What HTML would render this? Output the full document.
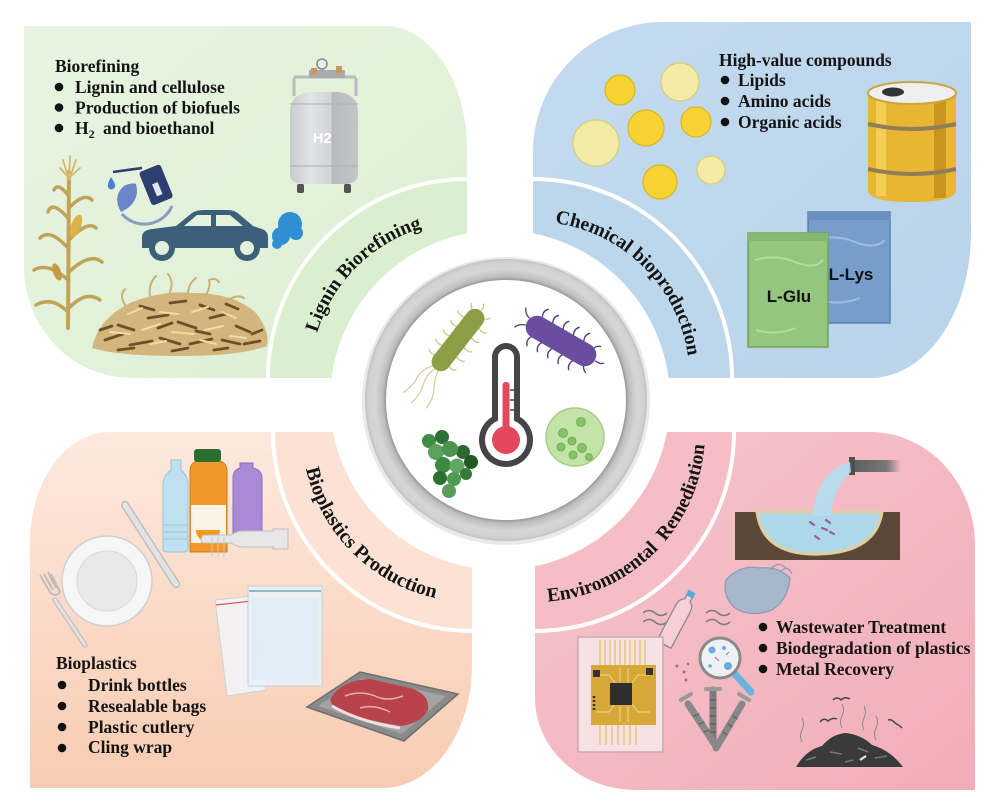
<!DOCTYPE html>
<html><head><meta charset="utf-8">
<style>
html,body{margin:0;padding:0;background:#fff;}
svg{display:block;}
.t{font-family:"Liberation Serif",serif;font-weight:bold;font-size:17.5px;fill:#141414;}
.c{font-family:"Liberation Serif",serif;font-weight:bold;font-size:19.5px;fill:#141414;}
.s{font-family:"Liberation Sans",sans-serif;font-weight:bold;}
</style></head><body>
<svg width="1006" height="810" viewBox="0 0 1006 810" xmlns="http://www.w3.org/2000/svg">
<defs>
  <linearGradient id="gG" x1="0" y1="0" x2="1" y2="1">
    <stop offset="0" stop-color="#e8f4e1"/><stop offset="1" stop-color="#ddefd4"/>
  </linearGradient>
  <linearGradient id="gB" x1="0" y1="0" x2="1" y2="1">
    <stop offset="0" stop-color="#c4dbef"/><stop offset="1" stop-color="#b9d3ea"/>
  </linearGradient>
  <linearGradient id="gP" x1="0" y1="0" x2="0" y2="1">
    <stop offset="0" stop-color="#fde9de"/><stop offset="1" stop-color="#f8ccb2"/>
  </linearGradient>
  <linearGradient id="gR" x1="0" y1="0" x2="1" y2="1">
    <stop offset="0" stop-color="#f6c6cd"/><stop offset="1" stop-color="#f1adb8"/>
  </linearGradient>
  <radialGradient id="ring" cx="506" cy="400" r="141" gradientUnits="userSpaceOnUse">
    <stop offset="0.845" stop-color="#8e8e8e"/>
    <stop offset="0.875" stop-color="#bdbdbd"/>
    <stop offset="0.93" stop-color="#d6d6d6"/>
    <stop offset="0.975" stop-color="#d2d2d2"/>
    <stop offset="1" stop-color="#c2c2c2"/>
  </radialGradient>
  <linearGradient id="pipe" x1="0" y1="0" x2="1" y2="0">
    <stop offset="0" stop-color="#5e5e5e"/><stop offset="0.7" stop-color="#777"/><stop offset="1" stop-color="#777" stop-opacity="0"/>
  </linearGradient>
  <linearGradient id="tank" x1="0" y1="0" x2="1" y2="0">
    <stop offset="0" stop-color="#c9cacc"/><stop offset="0.3" stop-color="#e2e3e5"/><stop offset="0.6" stop-color="#d3d4d6"/><stop offset="0.62" stop-color="#b9babd"/><stop offset="1" stop-color="#c4c5c7"/>
  </linearGradient>
  <path id="pLig" d="M310.5 378 A156.5 156.5 0 0 1 467 221.5"/>
  <path id="pChem" d="M533 221.5 A156.5 156.5 0 0 1 689.5 378"/>
  <path id="pBio" d="M302 432 A170 170 0 0 0 472 602"/>
  <path id="pEnv" d="M535 602 A170 170 0 0 0 705 432"/>
</defs>

<!-- Quadrant main regions -->
<path d="M24 26 L385 26 A82 123 0 0 1 467 149 L467 177 A201 201 0 0 0 266 378 L132 378 A108 111 0 0 1 24 267 Z" fill="url(#gG)"/>
<path d="M533 177 L533 152 A130 130 0 0 1 663 22 L971 22 L971 233 A101 145 0 0 1 870 378 L734 378 A201 201 0 0 0 533 177 Z" fill="url(#gB)"/>
<path d="M30 542 A80 110 0 0 1 110 432 L271 432 A201 201 0 0 0 472 633 L472 665 A89 123 0 0 1 383 788 L30 788 Z" fill="url(#gP)"/>
<path d="M736 432 L870 432 A105 113 0 0 1 975 545 L975 790 L636 790 A101 92 0 0 1 535 698 L535 633 A201 201 0 0 0 736 432 Z" fill="url(#gR)"/>

<!-- Bands -->
<path d="M467 181 A197 197 0 0 0 270 378 L467 378 Z" fill="#d9efcf"/>
<path d="M533 181 A197 197 0 0 1 730 378 L533 378 Z" fill="#bcd6ec"/>
<path d="M275 432 A197 197 0 0 0 472 629 L472 432 Z" fill="#fce2d5"/>
<path d="M535 629 A197 197 0 0 0 732 432 L535 432 Z" fill="#f5bec6"/>

<!-- white disc -->
<circle cx="500" cy="400" r="170" fill="#fff"/>

<!-- curved labels -->
<text class="c" text-anchor="middle"><textPath href="#pLig" startOffset="50%">Lignin Biorefining</textPath></text>
<text class="c" text-anchor="middle"><textPath href="#pChem" startOffset="50%">Chemical bioproduction</textPath></text>
<text class="c" text-anchor="middle" style="font-size:20px"><textPath href="#pBio" startOffset="50%">Bioplastics Production</textPath></text>
<text class="c" text-anchor="middle"><textPath href="#pEnv" startOffset="50%">Environmental&#160; Remediation</textPath></text>

<!-- Center ring -->
<circle cx="506" cy="401" r="144" fill="#e9e9e9"/>
<circle cx="506" cy="400" r="141" fill="url(#ring)"/>
<circle cx="506" cy="400" r="120" fill="#fff"/>

<!-- green bacterium -->
<g transform="translate(458 340) rotate(-52)">
  <g stroke="#c9c98a" stroke-width="1.3" fill="none" stroke-linecap="round">
    <path d="M-26 -9 q-2 -5 1 -8 M-14 -9 q-2 -6 1 -9 M-2 -9 q-2 -6 1 -9 M10 -9 q-2 -6 1 -9 M22 -9 q-2 -6 1 -9 M32 -6 q2 -5 5 -6"/>
    <path d="M-26 9 q-2 5 1 8 M-14 9 q-2 6 1 9 M-2 9 q-2 6 1 9 M10 9 q-2 6 1 9 M22 9 q-2 6 1 9 M32 6 q2 5 5 6 M38 0 q4 1 6 -2"/>
    <path d="M-36 0 q-10 -4 -20 0 t-22 2" stroke="#d4d0a0"/>
    <path d="M-35 3 q-10 2 -18 8 t-20 6" stroke="#d4d0a0"/>
    <path d="M-35 -3 q-10 -8 -20 -6 t-20 -2" stroke="#d4d0a0"/>
  </g>
  <rect x="-37" y="-9.5" width="74" height="19" rx="9.5" fill="#8d9e47"/>
</g>
<!-- purple bacterium -->
<g transform="translate(561 341) rotate(30)">
  <g stroke="#4e3a7e" stroke-width="1.3" fill="none" stroke-linecap="round">
    <path d="M-28 -11 q-3 -6 1 -10 M-16 -11 q-3 -6 1 -10 M-4 -11 q-3 -6 1 -10 M8 -11 q-3 -6 1 -10 M20 -11 q-3 -6 1 -10 M31 -8 q2 -6 6 -7"/>
    <path d="M-28 11 q-3 6 1 10 M-16 11 q-3 6 1 10 M-4 11 q-3 6 1 10 M8 11 q-3 6 1 10 M20 11 q-3 6 1 10 M31 8 q2 6 6 7"/>
    <path d="M-39 -4 q-6 -2 -8 -7 M-39 4 q-6 2 -8 7 M40 0 q5 1 8 -2"/>
  </g>
  <rect x="-39" y="-11.5" width="78" height="23" rx="11.5" fill="#6a4d9f"/>
</g>
<!-- thermometer -->
<g>
  <rect x="492" y="343" width="28" height="90" rx="14" fill="#454545"/>
  <circle cx="506" cy="440" r="27" fill="#454545"/>
  <rect x="498" y="349" width="16" height="86" rx="8" fill="#fff"/>
  <circle cx="506" cy="440" r="21" fill="#fff"/>
  <rect x="502.5" y="382" width="7" height="55" rx="3" fill="#e4485a"/>
  <circle cx="506" cy="440" r="14" fill="#e4485a"/>
  <path d="M510 390 h4 M510 400 h4 M510 410 h4" stroke="#454545" stroke-width="1.5"/>
</g>
<!-- cocci cluster -->
<g>
  <circle cx="429" cy="441" r="7" fill="#3f8a44"/>
  <circle cx="442" cy="437" r="7" fill="#2f7036"/>
  <circle cx="463" cy="452" r="7" fill="#2b6a30"/>
  <circle cx="471" cy="462" r="7" fill="#1f5a25"/>
  <circle cx="436" cy="452" r="8" fill="#5aa25c"/>
  <circle cx="450" cy="449" r="8" fill="#4d9450"/>
  <circle cx="443" cy="465" r="8" fill="#3c8a40"/>
  <circle cx="457" cy="466" r="7.5" fill="#5fa862"/>
  <circle cx="440" cy="478" r="7" fill="#2d7032"/>
  <circle cx="454" cy="479" r="7" fill="#4d9a50"/>
  <circle cx="466" cy="474" r="6" fill="#357a3a"/>
  <circle cx="449" cy="491" r="7" fill="#5a9e5c"/>
</g>
<!-- algae cell -->
<g>
  <circle cx="575" cy="437" r="29" fill="#c3e3a8" stroke="#a5cf88" stroke-width="1.5"/>
  <g fill="#86c265" stroke="#6aa84d" stroke-width="0.8">
    <circle cx="581" cy="422" r="4.5"/><circle cx="563" cy="433" r="4.5"/><circle cx="572" cy="441" r="4"/>
    <circle cx="561" cy="447" r="4"/><circle cx="582" cy="448" r="4.5"/><circle cx="573" cy="455" r="4"/><circle cx="589" cy="457" r="3.5"/>
  </g>
</g>

<!-- ============ GREEN QUADRANT ============ -->
<text class="t" x="55" y="72">Biorefining</text>
<g fill="#111"><circle cx="59" cy="87" r="4.3"/><circle cx="59" cy="107.5" r="4.3"/><circle cx="59" cy="128" r="4.3"/></g>
<text class="t" x="75" y="93">Lignin and cellulose</text>
<text class="t" x="75" y="113.5">Production of biofuels</text>
<text class="t" x="75" y="134">H<tspan font-size="12" dy="4">2</tspan><tspan x="103" dy="-4">and bioethanol</tspan></text>

<!-- H2 tank -->
<g>
  <path d="M294 78 L294 96 M356 78 L356 96 M294 77 L356 77" stroke="#b9babc" stroke-width="3" fill="none"/>
  <rect x="309" y="70" width="36" height="8" fill="#a9aaad"/>
  <circle cx="322" cy="64" r="5" fill="#eee" stroke="#888" stroke-width="1.5"/>
  <rect x="311" y="68" width="6" height="6" fill="#c59a62"/>
  <rect x="336" y="66" width="6" height="7" fill="#c59a62"/>
  <path d="M290 112 Q290 93 312 92 L336 92 Q358 93 358 112 L358 174 Q358 183 346 184 L302 184 Q290 183 290 174 Z" fill="url(#tank)"/>
  <path d="M290 104 H358 M290 166 H358" stroke="#b4b5b8" stroke-width="1.2"/>
  <rect x="297" y="184" width="7" height="9" rx="2" fill="#555"/>
  <rect x="344" y="184" width="7" height="9" rx="2" fill="#555"/>
  <text class="s" x="313" y="143" font-size="14.5" fill="#fff">H2</text>
</g>

<!-- corn -->
<g fill="none" stroke-linecap="round">
  <path d="M68 328 L69 172" stroke="#c5a354" stroke-width="4"/>
  <g stroke="#c0a258" stroke-width="3.5">
    <path d="M68 312 Q52 296 36 305"/>
    <path d="M69 308 Q86 290 100 300"/>
    <path d="M68 280 Q48 262 34 270"/>
    <path d="M69 272 Q90 252 102 262"/>
    <path d="M68 248 Q50 228 40 238"/>
    <path d="M69 240 Q88 220 96 228"/>
    <path d="M68 218 Q52 200 48 212"/>
    <path d="M69 208 Q84 192 92 200"/>
    <path d="M68 195 Q58 182 54 190"/>
  </g>
  <path d="M69 180 L63 160 M69 180 L70 156 M69 180 L76 160 M69 178 L60 168 M69 178 L80 168" stroke="#d7b86a" stroke-width="1.8"/>
  <ellipse cx="76" cy="226" rx="5" ry="12" fill="#dcb04a" transform="rotate(20 76 226)"/>
  <ellipse cx="57" cy="272" rx="4" ry="9" fill="#c49a45" transform="rotate(-20 57 272)"/>
</g>

<!-- straw pile -->
<g>
  <path d="M92 348 Q98 318 132 302 Q165 290 190 293 Q232 292 255 312 Q270 330 267 346 Q240 356 180 356 Q118 356 92 348 Z" fill="#d3b67d"/>
  <g stroke="#6e4f28" stroke-width="2.8" stroke-linecap="round" fill="none">
    <path d="M105 340 l18 -6 M130 345 l22 -4 M160 338 l20 6 M190 344 l22 -5 M222 340 l18 4 M118 325 l16 5 M148 318 l20 -3 M178 322 l18 6 M210 318 l16 -4 M236 326 l14 6 M140 306 l14 4 M170 303 l16 -2 M200 305 l14 5 M244 344 l16 -3 M100 330 l12 -4 M158 328 l14 -5 M196 331 l14 3 M226 304 l12 5 M252 334 l10 -4 M118 350 l16 -2 M172 351 l16 -3 M214 350 l14 -2"/>
  </g>
  <g stroke="#efdcaa" stroke-width="2" stroke-linecap="round" fill="none">
    <path d="M110 332 l20 2 M142 330 l18 -6 M172 332 l22 2 M205 330 l18 -4 M230 336 l16 2 M128 314 l14 -6 M160 312 l18 2 M192 312 l16 -5 M222 312 l14 6 M150 344 l16 -3 M200 340 l16 4"/>
  </g>
  <g stroke="#cdb073" stroke-width="2" fill="none" stroke-linecap="round">
    <path d="M150 296 q-2 -12 6 -20 M170 292 q4 -10 -2 -18 M188 294 q0 -10 8 -16 M205 296 q6 -8 4 -16 q6 -3 10 2 M125 305 q-6 -10 0 -16 M228 300 q10 -6 16 -2"/>
  </g>
</g>

<!-- fuel icon -->
<g>
  <path d="M122 214 A30 30 0 0 0 172 206" stroke="#8a9ac0" stroke-width="3" fill="none"/>
  <path d="M113 172 L142 168" stroke="#2d3f70" stroke-width="2.5"/>
  <g transform="rotate(-22 156 186)">
    <rect x="145" y="167" width="23" height="36" rx="3" fill="#2d3f70"/>
    <rect x="153" y="183" width="6" height="13" fill="#dfe7f3"/>
  </g>
  <path d="M111 177 Q107 184 108 187 Q111 192 115 187 Q116 184 111 177 Z" fill="#4a80d0"/>
  <path d="M121 212 Q112 196 124 186 Q132 182 136 184 Q140 198 128 208 Z" fill="#6a86c8"/>
</g>

<!-- car -->
<g fill="#3c6079">
  <path d="M142 248 L142 236 Q143 230 152 229 L176 226 L192 213 Q196 210 204 210 L228 210 Q235 210 240 215 L253 226 L262 229 Q268 231 268 238 L268 248 Z"/>
  <circle cx="162" cy="248" r="13"/><circle cx="247" cy="248" r="13"/>
</g>
<g fill="#e4f1dc">
  <path d="M184 226 L197 215 L211 215 L211 226 Z"/>
  <path d="M216 215 L230 215 L243 226 L216 226 Z"/>
  <circle cx="162" cy="248" r="7"/><circle cx="247" cy="248" r="7"/>
</g>
<g fill="#2f8fd2">
  <circle cx="290" cy="224" r="12"/><circle cx="281" cy="236" r="9"/><circle cx="277" cy="244" r="5"/><circle cx="296" cy="233" r="7"/>
</g>

<!-- ============ BLUE QUADRANT ============ -->
<text class="t" x="719" y="66">High-value compounds</text>
<g fill="#111"><circle cx="725" cy="80" r="4.3"/><circle cx="725" cy="101" r="4.3"/><circle cx="725" cy="122" r="4.3"/></g>
<text class="t" x="738" y="86">Lipids</text>
<text class="t" x="738" y="107">Amino acids</text>
<text class="t" x="738" y="128">Organic acids</text>

<g stroke-width="1.2">
  <circle cx="620" cy="90" r="15" fill="#f6d233" stroke="#dcb423"/>
  <circle cx="680" cy="82" r="19" fill="#f2eca6" stroke="#d8cd72"/>
  <circle cx="596" cy="143" r="23" fill="#f2eca6" stroke="#d8cd72"/>
  <circle cx="646" cy="128" r="18" fill="#f6d233" stroke="#dcb423"/>
  <circle cx="696" cy="122" r="15" fill="#f6d233" stroke="#dcb423"/>
  <circle cx="660" cy="182" r="17" fill="#f6d233" stroke="#dcb423"/>
  <circle cx="711" cy="170" r="14" fill="#f2eca6" stroke="#d8cd72"/>
</g>

<!-- barrel -->
<g>
  <path d="M868 94 L868 190 Q868 202 912 202 Q956 202 956 190 L956 94 Z" fill="#e8b632"/>
  <rect x="876" y="100" width="10" height="96" fill="#f3cf58"/>
  <rect x="934" y="100" width="12" height="98" fill="#c9951f"/>
  <path d="M868 124 Q912 134 956 124 M868 169 Q912 179 956 169" stroke="#8f7d58" stroke-width="4" fill="none"/>
  <ellipse cx="912" cy="93" rx="44" ry="11" fill="#efefef" stroke="#c9a640" stroke-width="2"/>
  <ellipse cx="893" cy="92" rx="11" ry="4.5" fill="#333"/>
</g>

<!-- bags -->
<g>
  <rect x="808" y="212" width="82" height="111" fill="#779dcb" stroke="#5a80b0" stroke-width="1.5"/>
  <rect x="808" y="212" width="82" height="8" fill="#6a90c0"/>
  <path d="M815 240 q20 -6 40 2 t30 -2 M820 300 q20 6 40 -2" stroke="#9fbde0" stroke-width="2" fill="none"/>
  <text class="s" x="851" y="280" font-size="17" text-anchor="middle" fill="#111">L-Lys</text>
  <rect x="748" y="233" width="80" height="114" fill="#93c77f" stroke="#6ea45d" stroke-width="1.5"/>
  <rect x="748" y="233" width="80" height="8" fill="#84ba70"/>
  <path d="M755 260 q20 -6 40 2 t28 -2 M756 330 q20 6 40 -2" stroke="#b3dca2" stroke-width="2" fill="none"/>
  <text class="s" x="789" y="302" font-size="17" text-anchor="middle" fill="#111">L-Glu</text>
</g>

<!-- ============ PEACH QUADRANT ============ -->
<text class="t" x="56" y="669">Bioplastics</text>
<g fill="#111"><circle cx="62" cy="685" r="4.3"/><circle cx="62" cy="706" r="4.3"/><circle cx="62" cy="727" r="4.3"/><circle cx="62" cy="748" r="4.3"/></g>
<text class="t" x="88" y="691">Drink bottles</text>
<text class="t" x="88" y="712">Resealable bags</text>
<text class="t" x="88" y="733">Plastic cutlery</text>
<text class="t" x="88" y="753">Cling wrap</text>

<!-- bottles -->
<g>
  <path d="M171 460 h10 v10 q7 6 7 14 v64 q0 4 -4 4 h-17 q-4 0 -4 -4 v-64 q0 -8 8 -14 z" fill="#bfe0ef" stroke="#98c3d8" stroke-width="1"/>
  <path d="M164 525 h23 M164 532 h23 M164 539 h23" stroke="#9cc6da" stroke-width="1"/>
  <path d="M233 536 v-58 q0 -8 7 -10 v-5 h13 v5 q9 2 9 10 v58 z" fill="#a88ad5" stroke="#8a6ec0" stroke-width="1"/>
  <path d="M190 552 v-80 q0 -10 8 -11 h21 q8 1 8 11 v80 z" fill="#f1982a" stroke="#d07c18" stroke-width="1"/>
  <rect x="194" y="449" width="27" height="13" rx="3" fill="#2c6e2f"/>
  <rect x="191" y="505" width="35" height="38" fill="#fbf4e6"/>
  <path d="M196 530 a12 12 0 0 0 24 0 z" fill="#f29a1e"/>
  <path d="M203 535 h28 q6 -4 12 -4 h30 v-2 h15 v20 h-15 v-2 h-30 q-6 0 -12 -4 h-28 q-2 0 -2 -4 z" fill="#e7e7e7" stroke="#bdbdbd" stroke-width="1"/>
  <path d="M212 537 v20 M218 537 v20 M224 537 v20" stroke="#c9c9c9" stroke-width="1"/>
</g>
<!-- plate -->
<circle cx="107" cy="581" r="45" fill="#f6f6f6" stroke="#cfcfcf" stroke-width="1.5"/>
<circle cx="107" cy="581" r="30" fill="#e9e9e9" stroke="#d8d8d8" stroke-width="1"/>
<!-- knife & fork -->
<path d="M125 505 L176 584" stroke="#b9b9b9" stroke-width="8" stroke-linecap="round"/>
<path d="M125 505 L176 584" stroke="#e2e2e2" stroke-width="5.5" stroke-linecap="round"/>
<path d="M55 600 L85 645" stroke="#b9b9b9" stroke-width="5" stroke-linecap="round"/>
<path d="M55 600 L85 645" stroke="#e2e2e2" stroke-width="3" stroke-linecap="round"/>
<path d="M40 575 L50 592 Q55 598 60 592 L51 574 M44 574 L53 590 M48 572 L56 588" stroke="#bdbdbd" stroke-width="2" fill="none"/>
<!-- resealable bags -->
<g>
  <path d="M215 600 L252 596 L266 690 L227 696 Z" fill="#f1f5f9" fill-opacity="0.85" stroke="#c8d2dc" stroke-width="1"/>
  <path d="M216 605 L252 601" stroke="#d06060" stroke-width="1.2"/>
  <rect x="248" y="586" width="74" height="100" fill="#e9f2f9" fill-opacity="0.9" stroke="#c2cfdb" stroke-width="1"/>
  <path d="M249 591 H321" stroke="#5a9ab0" stroke-width="1.2"/>
  <rect x="252" y="598" width="66" height="82" fill="#dbe9f4" fill-opacity="0.6"/>
</g>
<!-- meat tray -->
<g>
  <path d="M307 707 L360 672 L458 694 L404 741 Z" fill="#8a8a8a" stroke="#6f6f6f" stroke-width="1.5"/>
  <path d="M318 706 L362 678 L446 696 L402 734 Z" fill="#a3a3a3"/>
  <path d="M330 700 Q340 680 370 679 Q392 684 410 688 Q430 694 428 710 Q420 724 400 726 Q380 722 360 718 Q335 714 330 700 Z" fill="#b8434c"/>
  <path d="M345 696 q15 -6 30 0 q12 6 28 0 M360 708 q14 -4 30 4" stroke="#e8b0b0" stroke-width="1.5" fill="none"/>
  <path d="M332 706 Q360 722 400 728" stroke="#f2e0dc" stroke-width="3" fill="none"/>
</g>

<!-- ============ RED QUADRANT ============ -->
<g fill="#111"><circle cx="763" cy="627" r="4.3"/><circle cx="763" cy="648" r="4.3"/><circle cx="763" cy="669" r="4.3"/></g>
<text class="t" x="776" y="633">Wastewater Treatment</text>
<text class="t" x="776" y="654">Biodegradation of plastics</text>
<text class="t" x="776" y="675">Metal Recovery</text>

<!-- wastewater -->
<g>
  <rect x="735" y="512" width="165" height="48" fill="#5c4739"/>
  <path d="M757 512 Q763 556 820 554 Q876 552 882 512 Z" fill="#aed8ea" stroke="#e0cfa0" stroke-width="3"/>
  <rect x="853" y="460" width="48" height="12" fill="url(#pipe)"/>
  <rect x="849" y="457" width="6" height="18" fill="#4f4f4f"/>
  <path d="M850 462 Q818 470 812 516 L830 516 Q836 484 851 472 Z" fill="#b3ddef" fill-opacity="0.9"/>
  <path d="M810 522 l4 3 M822 528 l5 2 M815 536 l4 3 M830 532 l4 2 M826 520 l4 3" stroke="#9a5c9a" stroke-width="2.2" stroke-linecap="round"/>
</g>
<!-- plastic waste -->
<g fill="none" stroke="#7a7a7a" stroke-width="1.5">
  <path d="M643 613 q6 -5 12 0 t12 0 M643 622 q6 -5 12 0 t12 0"/>
  <path d="M706 613 q6 -5 12 0 t12 0 M706 622 q6 -5 12 0 t12 0"/>
</g>
<g transform="translate(678 618) rotate(28)">
  <path d="M-8 30 v-40 q0 -8 5 -10 v-6 h6 v6 q5 2 5 10 v40 z" fill="#f7cfd5" stroke="#8a8a8a" stroke-width="1.3"/>
  <rect x="-4" y="-30" width="8" height="6" fill="#5aa8d8"/>
</g>
<path d="M726 580 Q740 564 760 568 Q778 566 790 578 Q788 600 772 610 Q750 618 735 608 Q722 596 726 580 Z" fill="#a6b7cc" stroke="#8a9bb2" stroke-width="1.2"/>
<path d="M770 570 q8 -10 16 -2 M780 572 q8 -8 12 2" stroke="#8a9bb2" stroke-width="1.2" fill="none"/>
<!-- chip board -->
<g>
  <rect x="578" y="637" width="85" height="115" fill="#f6e1e5" stroke="#c9a9ae" stroke-width="1.5"/>
  <path d="M600 640 v26 M605 640 v26 M610 640 v26 M615 640 v26 M620 640 v26 M625 640 v26 M630 640 v26 M635 640 v26 M640 640 v26 M645 640 v26" stroke="#e7c77a" stroke-width="1.5"/>
  <rect x="591" y="665" width="65" height="60" fill="#d6a838"/>
  <path d="M600 725 v20 M606 725 v20 M612 725 v20 M618 725 v20 M624 725 v20 M630 725 v20 M636 725 v20" stroke="#e7c77a" stroke-width="1.5"/>
  <path d="M597 675 h12 l6 8 M597 712 h12 l6 -8 M650 675 h-12 l-6 8 M650 712 h-12 l-6 -8 M620 668 v14 M628 668 v14 M620 706 v16 M628 706 v16" stroke="#f3d98a" stroke-width="1" fill="none"/>
  <rect x="610" y="683" width="22" height="22" fill="#2f2f2f"/>
  <rect x="593" y="670" width="7" height="7" fill="#333"/>
  <rect x="646" y="668" width="7" height="7" fill="#333"/>
  <path d="M594 696 v14" stroke="#333" stroke-width="2.5" stroke-dasharray="2 2"/>
</g>
<!-- magnifier -->
<g>
  <path d="M734 673 L751 692" stroke="#6cb3e2" stroke-width="7" stroke-linecap="round"/>
  <circle cx="720" cy="658" r="20" fill="#eef2f6" stroke="#8a8a8a" stroke-width="3"/>
  <g fill="#6aaee0"><circle cx="712" cy="650" r="3.5"/><circle cx="728" cy="666" r="4"/><circle cx="724" cy="648" r="2"/><circle cx="710" cy="666" r="1.8"/></g>
  <path d="M715 657 l4 4 M726 655 l3 -3" stroke="#a77" stroke-width="1"/>
</g>
<g fill="#b06a78"><circle cx="677" cy="666" r="1.5"/><circle cx="684" cy="672" r="1.5"/><circle cx="688" cy="664" r="1.2"/><circle cx="686" cy="680" r="1.5"/></g>
<!-- screws -->
<g stroke-linecap="round">
  <path d="M713 690 L713 742" stroke="#7d7d7d" stroke-width="7"/>
  <path d="M688 704 L716 746" stroke="#888" stroke-width="7"/>
  <path d="M742 704 L716 748" stroke="#888" stroke-width="7"/>
  <path d="M706 689 h14 M681 700 l10 -6 M749 700 l-10 -6" stroke="#9a9a9a" stroke-width="4"/>
  <path d="M710 700 h6 M710 708 h6 M710 716 h6 M710 724 h6 M710 732 h6 M694 716 l5 -2 M699 724 l5 -2 M704 732 l5 -2 M733 716 l4 3 M728 724 l4 3 M723 732 l4 3" stroke="#5e5e5e" stroke-width="1.2"/>
</g>
<!-- garbage pile -->
<g>
  <path d="M796 767 Q806 750 822 746 Q832 734 846 733 Q862 735 872 745 Q890 750 903 767 Z" fill="#3a3a3a"/>
  <path d="M806 760 l10 -3 M830 752 l12 2 M858 748 l10 4 M875 758 l12 -2 M845 762 l8 -2" stroke="#777" stroke-width="1.5"/>
  <path d="M860 760 l6 -4" stroke="#eee" stroke-width="2"/>
  <g stroke="#8a8a8a" stroke-width="1" fill="none">
    <path d="M802 742 q-3 -6 0 -12 t0 -12 M842 728 q-3 -6 0 -12 t0 -12 M864 730 q-3 -6 0 -12 t0 -12 M876 740 q-3 -6 0 -12 t0 -12"/>
  </g>
  <g stroke="#444" stroke-width="1.5" fill="none">
    <path d="M833 700 q4 -4 8 0 q4 -4 9 -1"/>
    <path d="M820 722 q4 -5 8 -1 q5 -4 9 -2"/>
    <path d="M888 720 q4 -1 7 3 q4 2 7 5"/>
  </g>
</g>
</svg>
</body></html>
